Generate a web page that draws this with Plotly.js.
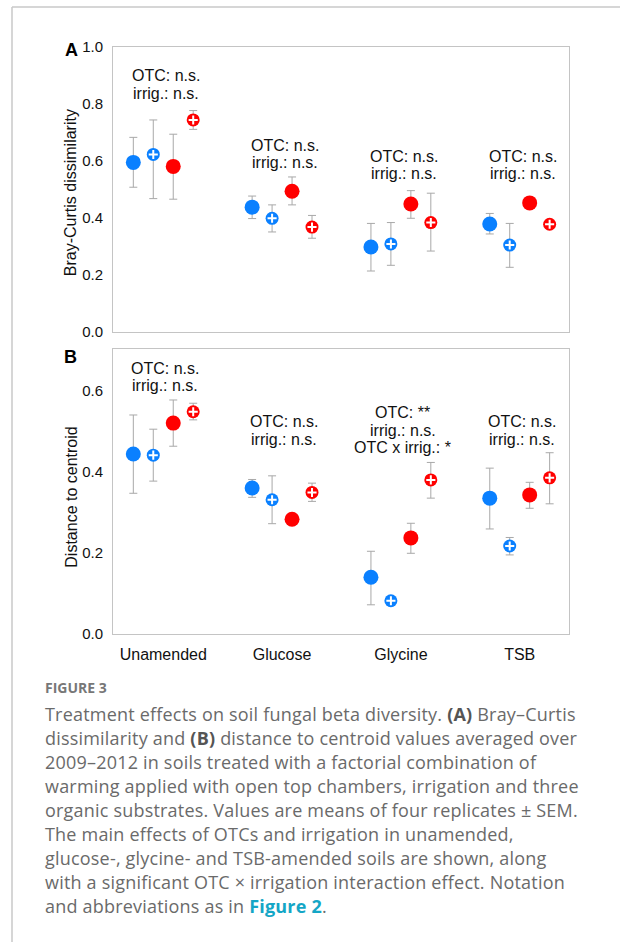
<!DOCTYPE html>
<html>
<head>
<meta charset="utf-8">
<script src="https://cdn.plot.ly/plotly-3.0.1.min.js"></script>
<style>
  html, body { margin:0; padding:0; background:#fff; }
  #plot { position:absolute; left:0; top:0; width:620px; height:942px; }
  #cap { position:absolute; left:45px; top:680px; width:575px; font-family:"Open Sans", "Noto Sans", sans-serif; color:#6a6a6a; z-index:5; }
  #cap .fig { font-size:14px; font-weight:700; line-height:16px; color:#777; letter-spacing:0px; }
  #cap .body { margin-top:6px; font-size:18px; line-height:24px; white-space:nowrap; letter-spacing:0.2px; }
  #cap b { font-weight:700; color:#555; }
  #cap .lnk { color:#14a6c6; font-weight:700; }
</style>
</head>
<body>
<div id="plot"></div>
<div id="cap">
  <div class="fig">FIGURE 3</div>
  <div class="body">Treatment effects on soil fungal beta diversity. <b>(A)</b> Bray–Curtis<br>dissimilarity and <b>(B)</b> distance to centroid values averaged over<br>2009–2012 in soils treated with a factorial combination of<br>warming applied with open top chambers, irrigation and three<br>organic substrates. Values are means of four replicates ± SEM.<br>The main effects of OTCs and irrigation in unamended,<br>glucose-, glycine- and TSB-amended soils are shown, along<br>with a significant OTC × irrigation interaction effect. Notation<br>and abbreviations as in <span class="lnk">Figure 2</span>.</div>
</div>
<script>
// ---------- DATA ----------
const categories = ['Unamended', 'Glucose', 'Glycine', 'TSB'];

// Panel A: Bray-Curtis dissimilarity
const A_ctrl      = [0.595, 0.438, 0.298, 0.379];
const A_ctrl_up   = [0.088, 0.039, 0.083, 0.037];
const A_ctrl_dn   = [0.087, 0.040, 0.084, 0.035];
const A_irr       = [0.623, 0.399, 0.309, 0.305];
const A_irr_up    = [0.121, 0.047, 0.075, 0.076];
const A_irr_dn    = [0.155, 0.048, 0.075, 0.078];
const A_otc       = [0.581, 0.494, 0.449, 0.453];
const A_otc_up    = [0.113, 0.050, 0.047, 0.015];
const A_otc_dn    = [0.115, 0.048, 0.050, 0.015];
const A_otcirr    = [0.744, 0.368, 0.384, 0.378];
const A_otcirr_up = [0.033, 0.041, 0.103, 0.012];
const A_otcirr_dn = [0.033, 0.039, 0.100, 0.012];

// Panel B: Distance to centroid
const B_ctrl      = [0.444, 0.360, 0.140, 0.335];
const B_ctrl_up   = [0.096, 0.021, 0.064, 0.074];
const B_ctrl_dn   = [0.097, 0.023, 0.068, 0.076];
const B_irr       = [0.441, 0.331, 0.082, 0.217];
const B_irr_up    = [0.064, 0.059, 0.010, 0.021];
const B_irr_dn    = [0.064, 0.059, 0.010, 0.022];
const B_otc       = [0.520, 0.283, 0.237, 0.343];
const B_otc_up    = [0.057, 0.010, 0.036, 0.031];
const B_otc_dn    = [0.057, 0.010, 0.038, 0.033];
const B_otcirr    = [0.548, 0.349, 0.380, 0.385];
const B_otcirr_up = [0.021, 0.023, 0.043, 0.062];
const B_otcirr_dn = [0.020, 0.022, 0.045, 0.064];

// Significance labels
const sigA = [['OTC: n.s.', 'irrig.: n.s.'], ['OTC: n.s.', 'irrig.: n.s.'], ['OTC: n.s.', 'irrig.: n.s.'], ['OTC: n.s.', 'irrig.: n.s.']];
const sigB = [['OTC: n.s.', 'irrig.: n.s.'], ['OTC: n.s.', 'irrig.: n.s.'], ['OTC: **', 'irrig.: n.s.', 'OTC x irrig.: *'], ['OTC: n.s.', 'irrig.: n.s.']];

// ---------- STYLE / LAYOUT ----------
const BLUE = '#0a80ff', RED = '#ff0000', ERR = '#a8a8a8';
const offsets = [-0.252, -0.084, 0.084, 0.252];
const catIdx = categories.map((c, i) => i);
const FONT = 'Liberation Sans, Arial, sans-serif';

function series(vals, up, dn, k, color, size, plus, xa, ya) {
  const xs = catIdx.map(i => i + offsets[k]);
  const out = [{
    type: 'scatter', mode: 'markers', x: xs, y: vals, xaxis: xa, yaxis: ya,
    marker: { color: color, size: size, line: { width: 0 } },
    error_y: { type: 'data', array: up, arrayminus: dn, symmetric: false, color: ERR, thickness: 1, width: 4 },
    hoverinfo: 'skip', showlegend: false
  }];
  if (plus) {
    out.push({
      type: 'scatter', mode: 'markers', x: xs, y: vals, xaxis: xa, yaxis: ya,
      marker: { symbol: 'cross-thin', size: 6.5, color: '#fff', line: { color: '#fff', width: 2 } },
      hoverinfo: 'skip', showlegend: false
    });
  }
  return out;
}

const data = [].concat(
  series(A_ctrl, A_ctrl_up, A_ctrl_dn, 0, BLUE, 15, false, 'x', 'y'),
  series(A_irr, A_irr_up, A_irr_dn, 1, BLUE, 13, true, 'x', 'y'),
  series(A_otc, A_otc_up, A_otc_dn, 2, RED, 15, false, 'x', 'y'),
  series(A_otcirr, A_otcirr_up, A_otcirr_dn, 3, RED, 13, true, 'x', 'y'),
  series(B_ctrl, B_ctrl_up, B_ctrl_dn, 0, BLUE, 15, false, 'x2', 'y2'),
  series(B_irr, B_irr_up, B_irr_dn, 1, BLUE, 13, true, 'x2', 'y2'),
  series(B_otc, B_otc_up, B_otc_dn, 2, RED, 15, false, 'x2', 'y2'),
  series(B_otcirr, B_otcirr_up, B_otcirr_dn, 3, RED, 13, true, 'x2', 'y2')
);

const W = 620, H = 942;
const px = v => v / W, py = v => 1 - v / H;

// annotation line positions (data units)
const sigAtop = [0.899, 0.655, 0.6175, 0.6175], sigAstep = 0.062;
const sigBtop = [0.655, 0.5236, 0.546, 0.523], sigBstep = 0.043;

const annotations = [];
sigA.forEach((lines, i) => lines.forEach((t, j) => annotations.push({
  xref: 'x', yref: 'y', x: i, y: sigAtop[i] - j * sigAstep, text: t, showarrow: false,
  xanchor: 'center', yanchor: 'middle', xshift: 3, font: { family: FONT, size: 16, color: '#111' }
})));
sigB.forEach((lines, i) => lines.forEach((t, j) => annotations.push({
  xref: 'x2', yref: 'y2', x: i, y: sigBtop[i] - j * sigBstep, text: t, showarrow: false,
  xanchor: 'center', yanchor: 'middle', xshift: 2, font: { family: FONT, size: 16, color: '#111' }
})));
annotations.push(
  { xref: 'paper', yref: 'paper', x: px(70.7), y: py(192.5), text: 'Bray-Curtis dissimilarity', textangle: -90, showarrow: false,
    xanchor: 'center', yanchor: 'middle', font: { family: FONT, size: 16, color: '#111' } },
  { xref: 'paper', yref: 'paper', x: px(70.7), y: py(497), text: 'Distance to centroid', textangle: -90, showarrow: false,
    xanchor: 'center', yanchor: 'middle', font: { family: FONT, size: 16, color: '#111' } },
  { xref: 'paper', yref: 'paper', x: px(71), y: py(50), text: '<b>A</b>', showarrow: false,
    xanchor: 'center', yanchor: 'middle', font: { family: FONT, size: 18, color: '#000' } },
  { xref: 'paper', yref: 'paper', x: px(70), y: py(357), text: '<b>B</b>', showarrow: false,
    xanchor: 'center', yanchor: 'middle', font: { family: FONT, size: 18, color: '#000' } }
);

const xr = [-0.423, 3.415];
const axCommon = { showline: true, mirror: true, linecolor: '#c4c4c4', linewidth: 1, showgrid: false, zeroline: false, ticks: '' };

const layout = {
  width: W, height: H, margin: { l: 0, r: 0, t: 0, b: 0 },
  paper_bgcolor: '#fff', plot_bgcolor: '#fff', showlegend: false,
  font: { family: FONT, color: '#111' },
  xaxis: Object.assign({}, axCommon, { domain: [px(113), px(569)], range: xr, anchor: 'y', showticklabels: false }),
  yaxis: Object.assign({}, axCommon, { domain: [py(332), py(47)], range: [0, 1.0], anchor: 'x',
    tickvals: [0, 0.2, 0.4, 0.6, 0.8, 1.0], ticktext: ['0.0', '0.2', '0.4', '0.6', '0.8', '1.0'],
    tickfont: { family: FONT, size: 15, color: '#111' }, ticklabelstandoff: 6 }),
  xaxis2: Object.assign({}, axCommon, { domain: [px(113), px(569)], range: xr, anchor: 'y2',
    tickvals: catIdx, ticktext: categories, tickfont: { family: FONT, size: 16, color: '#111' }, ticklabelstandoff: 6 }),
  yaxis2: Object.assign({}, axCommon, { domain: [py(634), py(349.3)], range: [0, 0.702], anchor: 'x2',
    tickvals: [0, 0.2, 0.4, 0.6], ticktext: ['0.0', '0.2', '0.4', '0.6'],
    tickfont: { family: FONT, size: 15, color: '#111' }, ticklabelstandoff: 6 }),
  annotations: annotations,
  shapes: [
    { type: 'line', xref: 'paper', yref: 'paper', x0: px(12), x1: 1, y0: py(7), y1: py(7), line: { color: '#c8c8c8', width: 1.5 } },
    { type: 'line', xref: 'paper', yref: 'paper', x0: px(12), x1: px(12), y0: py(7), y1: 0, line: { color: '#c8c8c8', width: 1.5 } }
  ]
};

Plotly.newPlot('plot', data, layout, { staticPlot: true, displayModeBar: false });
</script>
</body>
</html>
